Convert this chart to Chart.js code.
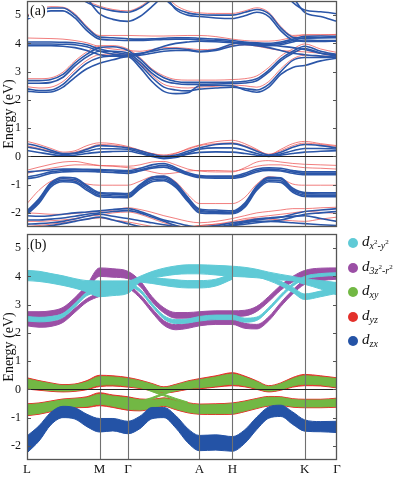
<!DOCTYPE html>
<html><head><meta charset="utf-8">
<script src="https://cdn.jsdelivr.net/npm/chart.js@4"></script>
<style>
html,body{margin:0;padding:0;background:#fff;}
body{width:395px;height:477px;position:relative;overflow:hidden;font-family:"Liberation Serif",serif;}
#wa{position:absolute;left:0;top:0;width:345px;height:229px;}
#wb{position:absolute;left:0;top:229px;width:345px;height:248px;}
.plab{position:absolute;font-size:14px;color:#111;background:#fff;padding:0 1px;line-height:14px;}
.leg{position:absolute;left:348px;height:14px;}
.dot{position:absolute;left:0;top:2px;width:10px;height:10px;border-radius:50%;}
.txt{position:absolute;left:14px;top:-3px;white-space:nowrap;font-style:italic;font-size:15px;color:#111;}
.txt .s{font-size:10px;vertical-align:-3px;}
.txt .s sup{font-size:7px;vertical-align:5px;font-style:normal;}
</style></head><body>
<div id="wa"><canvas id="ca" width="345" height="229"></canvas></div>
<div id="wb"><canvas id="cb" width="345" height="248"></canvas></div>
<div class="plab" style="left:29px;top:4px;">(a)</div>
<div class="plab" style="left:29px;top:238px;">(b)</div>
<div class="leg" style="top:236px"><div class="dot" style="background:#5FCAD6"></div><div class="txt">d<span class="s">x<sup>2</sup>-y<sup>2</sup></span></div></div>
<div class="leg" style="top:261px"><div class="dot" style="background:#9B4FA5"></div><div class="txt">d<span class="s">3z<sup>2</sup>-r<sup>2</sup></span></div></div>
<div class="leg" style="top:285px"><div class="dot" style="background:#72B844"></div><div class="txt">d<span class="s">xy</span></div></div>
<div class="leg" style="top:310px"><div class="dot" style="background:#E3302A"></div><div class="txt">d<span class="s">yz</span></div></div>
<div class="leg" style="top:334px"><div class="dot" style="background:#2453A6"></div><div class="txt">d<span class="s">zx</span></div></div>
<script>
// ---------- k-path and axes ----------
const kGrid = [0, 12, 24, 36, 48, 60, 72.6, 86, 101, 113, 125, 137, 149, 161, 172.6, 189, 205.6, 218, 230, 242, 254, 266, 278, 294, 310.3];
const kTickPos = [0, 72.6, 101, 172.6, 205.6, 278, 310.3];
const kTickLabels = ['L', 'M', 'Γ', 'A', 'H', 'K', 'Γ'];
const energyTicks = [-2, -1, 0, 1, 2, 3, 4, 5];
const energyMin = -2.5, energyMax = 5.5;
const N = null;

// ---------- panel (a): blue bands ----------
const aBlueU1 = [4.95, 5.15, 5.25, 5.25, 5.0, 4.55, 4.22, 4.2, 4.16, 4.15, 4.16, 4.18, 4.2, 4.2, 4.18, 4.15, 4.1, 4.05, 4.02, 4.0, 4.05, 4.15, 4.25, 4.26, 4.25];
const aBlueU2 = [4.85, 5.05, 5.15, 5.15, 4.9, 4.45, 4.15, 4.12, 4.1, 4.1, 4.12, 4.14, 4.15, 4.15, 4.13, 4.1, 4.05, 4.0, 3.97, 3.96, 4.0, 4.1, 4.2, 4.2, 4.2];
const aBlueU3 = [4.05, 4.05, 4.05, 4.04, 4.02, 3.95, 3.8, 3.7, 3.62, 3.65, 3.72, 3.8, 3.82, 3.78, 3.72, 3.78, 3.98, 4.02, 4.0, 3.95, 3.9, 3.85, 3.78, 3.65, 3.58];
const aBlueU4 = [3.98, 3.98, 3.98, 3.97, 3.95, 3.88, 3.72, 3.62, 3.57, 3.62, 3.75, 3.9, 4.0, 4.05, 4.08, 4.06, 4.02, 3.98, 3.95, 3.92, 3.95, 4.05, 4.12, 4.1, 4.1];
const aBlueU5 = [3.92, 3.92, 3.92, 3.9, 3.85, 3.75, 3.6, 3.55, 3.55, 3.58, 3.65, 3.72, 3.75, 3.75, 3.7, 3.75, 3.9, 3.95, 3.92, 3.85, 3.75, 3.65, 3.6, 3.55, 3.5];
const aBlueR1 = [2.68, 2.68, 2.72, 2.9, 3.3, 3.62, 3.85, 3.88, 3.75, 3.45, 3.05, 2.78, 2.65, 2.62, 2.62, 2.62, 2.63, 2.66, 2.75, 3.05, 3.45, 3.72, 3.9, 3.72, 3.6];
const aBlueR2 = [2.59, 2.59, 2.62, 2.8, 3.2, 3.52, 3.72, 3.72, 3.66, 3.35, 2.95, 2.68, 2.58, 2.55, 2.55, 2.56, 2.58, 2.6, 2.68, 2.98, 3.38, 3.65, 3.82, 3.65, 3.55];
const aBlueR3 = [2.39, 2.33, 2.35, 2.55, 2.95, 3.3, 3.5, 3.55, 3.58, 3.25, 2.8, 2.45, 2.35, 2.32, 2.38, 2.42, 2.45, 2.4, 2.35, 2.55, 3.0, 3.4, 3.5, 3.5, 3.52];
const aBlueR4 = [2.31, 2.27, 2.28, 2.45, 2.8, 3.1, 3.3, 3.42, 3.53, 3.15, 2.65, 2.3, 2.22, 2.25, 2.5, 2.52, 2.5, 2.35, 2.27, 2.45, 2.9, 3.15, 3.22, 3.38, 3.48];
const aBlueT1 = [N, N, N, N, 5.75, 5.45, 5.27, 5.15, 5.1, 5.25, 5.55, 5.9, N, N, N, N, N, N, N, N, N, N, N, N, N];
const aBlueT2 = [N, N, N, N, N, 5.6, 5.05, 4.85, 4.78, 4.95, 5.3, 5.7, N, N, N, N, N, N, N, N, N, N, N, N, N];
const aBlueT3 = [N, N, N, N, N, N, N, N, N, N, N, 5.6, 5.25, 5.08, 5.02, 5.0, 5.0, 5.1, 5.2, 5.05, 4.55, 4.22, 4.18, 4.2, 4.22];
const aBlueT4 = [N, N, N, N, N, N, N, N, N, N, N, 5.8, 5.2, 5.0, 4.95, 4.9, 4.88, 4.98, 5.1, 4.95, 4.45, 4.12, 4.07, 4.07, 4.08];
const aBlueT5 = [N, N, N, N, N, N, N, N, N, N, N, N, N, N, N, N, N, N, N, N, 5.9, 5.45, 5.18, 5.12, 5.05];
const aBlueT6 = [N, N, N, N, N, N, N, N, N, N, N, N, N, N, N, N, N, N, N, N, N, 5.65, 5.1, 4.95, 4.78];
const aBlueF1 = [0.45, 0.35, 0.22, 0.1, 0.12, 0.25, 0.38, 0.36, 0.3, 0.2, 0.08, 0.0, 0.05, 0.18, 0.3, 0.42, 0.45, 0.35, 0.18, 0.05, 0.15, 0.32, 0.42, 0.38, 0.3];
const aBlueF2 = [0.33, 0.25, 0.15, 0.07, 0.1, 0.18, 0.27, 0.27, 0.25, 0.15, 0.03, -0.06, 0.0, 0.12, 0.25, 0.3, 0.3, 0.22, 0.1, 0.02, 0.08, 0.2, 0.28, 0.28, 0.26];
const aBlueF3 = [0.21, 0.14, 0.07, 0.02, 0.04, 0.1, 0.15, 0.17, 0.18, 0.1, 0.0, -0.08, -0.04, 0.08, 0.14, 0.16, 0.15, 0.1, 0.04, 0.0, 0.04, 0.1, 0.15, 0.18, 0.2];
const aBlueM1 = [-0.55, -0.52, -0.48, -0.45, -0.45, -0.46, -0.47, -0.48, -0.5, -0.42, -0.3, -0.25, -0.4, -0.58, -0.68, -0.7, -0.7, -0.6, -0.45, -0.4, -0.42, -0.5, -0.55, -0.55, -0.55];
const aBlueM2 = [-0.73, -0.65, -0.55, -0.5, -0.48, -0.48, -0.5, -0.52, -0.55, -0.48, -0.38, -0.32, -0.45, -0.62, -0.72, -0.73, -0.73, -0.65, -0.5, -0.45, -0.48, -0.55, -0.6, -0.6, -0.6];
const aBlueM3 = [-0.79, -0.72, -0.6, -0.55, -0.53, -0.53, -0.55, -0.57, -0.6, -0.52, -0.42, -0.38, -0.5, -0.65, -0.75, -0.77, -0.77, -0.7, -0.55, -0.5, -0.52, -0.6, -0.65, -0.65, -0.65];
const aBlueH1 = [-1.97, -1.55, -0.97, -0.79, -0.82, -1.08, -1.32, -1.34, -1.37, -1.05, -0.78, -0.75, -1.0, -1.5, -1.9, -1.95, -1.97, -1.7, -1.1, -0.78, -0.8, -1.18, -1.32, -1.33, -1.33];
const aBlueH2 = [-2.0, -1.6, -1.02, -0.85, -0.88, -1.14, -1.38, -1.4, -1.42, -1.1, -0.84, -0.8, -1.05, -1.55, -1.95, -1.98, -2.0, -1.75, -1.15, -0.84, -0.86, -1.22, -1.37, -1.38, -1.38];
const aBlueH3 = [-1.93, -1.5, -0.93, -0.74, -0.77, -1.03, -1.28, -1.3, -1.32, -1.0, -0.74, -0.7, -0.95, -1.45, -1.86, -1.9, -1.93, -1.65, -1.05, -0.74, -0.76, -1.13, -1.28, -1.29, -1.29];
const aBlueH4 = [-2.05, -1.66, -1.08, -0.9, -0.93, -1.2, -1.43, -1.45, -1.46, -1.15, -0.9, -0.86, -1.1, -1.6, -2.0, -2.02, -2.03, -1.8, -1.2, -0.9, -0.92, -1.27, -1.42, -1.43, -1.43];
const aBlueD1 = [-2.1, -2.12, -2.1, -2.05, -2.0, -1.97, -1.93, -1.88, -1.85, -1.95, -2.1, -2.25, -2.35, -2.45, -2.5, -2.45, -2.35, -2.3, -2.25, -2.2, -2.15, -2.05, -1.95, -1.9, -1.85];
const aBlueD2 = [-2.25, -2.25, -2.22, -2.18, -2.12, -2.05, -2.0, -1.95, -1.92, -2.0, -2.15, -2.3, -2.45, -2.55, -2.6, -2.55, -2.45, -2.4, -2.35, -2.3, -2.25, -2.15, -2.05, -2.0, -1.95];
const aBlueD3 = [-2.4, -2.38, -2.35, -2.3, -2.22, -2.12, -2.05, -2.12, -2.2, -2.28, -2.35, -2.42, -2.48, -2.52, -2.55, -2.5, -2.4, -2.3, -2.22, -2.18, -2.15, -2.12, -2.1, -2.2, -2.3];
const aBlueD4 = [-2.55, -2.5, -2.45, -2.38, -2.3, -2.22, -2.15, -2.25, -2.38, -2.48, -2.55, -2.6, -2.6, -2.6, -2.6, -2.55, -2.45, -2.35, -2.3, -2.3, -2.32, -2.35, -2.38, -2.42, -2.45];

// ---------- panel (a): red bands ----------
const aRedU1 = [5.0, 5.2, 5.3, 5.28, 5.05, 4.6, 4.28, 4.28, 4.28, 4.27, 4.26, 4.26, 4.27, 4.28, 4.28, 4.24, 4.15, 4.1, 4.08, 4.08, 4.12, 4.22, 4.3, 4.3, 4.3];
const aRedU2 = [4.19, 4.18, 4.17, 4.15, 4.1, 4.02, 3.88, 3.8, 3.75, 3.72, 3.78, 3.85, 3.85, 3.82, 3.78, 3.8, 3.92, 3.95, 3.9, 3.82, 3.75, 3.72, 3.7, 3.65, 3.62];
const aRedR1 = [2.75, 2.75, 2.78, 2.98, 3.38, 3.7, 3.92, 3.92, 3.8, 3.5, 3.1, 2.85, 2.72, 2.7, 2.7, 2.7, 2.72, 2.75, 2.85, 3.15, 3.55, 3.8, 3.98, 3.8, 3.68];
const aRedR2 = [2.47, 2.42, 2.45, 2.65, 3.05, 3.4, 3.6, 3.62, 3.62, 3.3, 2.88, 2.55, 2.45, 2.42, 2.45, 2.48, 2.52, 2.5, 2.45, 2.65, 3.1, 3.45, 3.58, 3.55, 3.55];
const aRedT1 = [N, N, N, N, 5.75, 5.5, 5.32, 5.2, 5.15, 5.3, 5.6, N, N, N, N, N, N, N, N, N, N, N, N, N, N];
const aRedT2 = [N, N, N, N, N, N, N, N, N, N, N, 5.75, 5.35, 5.15, 5.08, 5.06, 5.06, 5.15, 5.26, 5.1, 4.6, 4.28, 4.3, 4.3, 4.32];
const aRedF1 = [0.53, 0.42, 0.28, 0.15, 0.2, 0.38, 0.48, 0.45, 0.35, 0.22, 0.1, 0.02, 0.1, 0.28, 0.4, 0.52, 0.57, 0.45, 0.25, 0.05, 0.25, 0.45, 0.53, 0.45, 0.38];
const aRedF2 = [0.38, 0.28, 0.18, 0.1, 0.15, 0.28, 0.42, 0.4, 0.32, 0.2, 0.1, 0.05, 0.12, 0.25, 0.38, 0.45, 0.48, 0.38, 0.22, 0.08, 0.2, 0.38, 0.47, 0.42, 0.35];
const aRedM1 = [-0.49, -0.38, -0.28, -0.2, -0.18, -0.25, -0.32, -0.33, -0.35, -0.3, -0.2, -0.18, -0.3, -0.45, -0.52, -0.55, -0.55, -0.4, -0.2, -0.15, -0.2, -0.25, -0.28, -0.3, -0.32];
const aRedM2 = [-0.6, -0.5, -0.42, -0.35, -0.3, -0.3, -0.33, -0.35, -0.4, -0.45, -0.55, -0.62, -0.58, -0.52, -0.5, -0.5, -0.52, -0.45, -0.35, -0.3, -0.3, -0.35, -0.4, -0.42, -0.45];
const aRedH1 = [-1.67, -1.2, -0.88, -0.78, -0.85, -0.98, -1.02, -1.02, -1.02, -0.88, -0.72, -0.7, -0.9, -1.35, -1.67, -1.67, -1.67, -1.45, -0.98, -0.72, -0.78, -0.98, -1.02, -1.02, -1.02];
const aRedD1 = [-2.0, -2.02, -2.05, -2.05, -2.02, -1.98, -1.95, -1.9, -1.82, -1.88, -1.98, -2.1, -2.2, -2.3, -2.35, -2.3, -2.2, -2.1, -2.0, -1.95, -1.9, -1.85, -1.85, -1.82, -1.8];
const aRedD2 = [-2.3, -2.3, -2.28, -2.25, -2.2, -2.12, -2.08, -2.0, -1.97, -2.05, -2.2, -2.35, -2.45, -2.5, -2.45, -2.4, -2.3, -2.2, -2.15, -2.1, -2.05, -2.0, -1.95, -1.98, -2.02];
const aRedD3 = [-2.48, -2.45, -2.4, -2.35, -2.28, -2.22, -2.18, -2.25, -2.32, -2.4, -2.48, -2.55, -2.55, -2.5, -2.45, -2.4, -2.35, -2.25, -2.2, -2.22, -2.25, -2.28, -2.3, -2.22, -2.15];

// ---------- panel (b): band energies ----------
const bUpperCyan = [4.03, 4.0, 3.93, 3.85, 3.75, 3.65, 3.56, 3.58, 3.62, 3.9, 4.05, 4.15, 4.22, 4.25, 4.25, 4.22, 4.18, 4.15, 4.1, 4.03, 3.97, 3.92, 3.82, 3.7, 3.56];
const bCyanBranch1 = [N, N, N, N, N, N, N, N, N, 3.88, 3.85, 3.8, 3.75, 3.72, 3.72, 3.78, 4.0, N, N, N, N, N, N, N, N];
const bCyanBranch2 = [N, N, N, N, N, N, N, N, N, N, N, N, N, N, N, N, N, N, 4.05, 3.92, 3.75, 3.52, 3.28, 3.38, 3.5];
const bPurpleUp = [2.65, 2.65, 2.68, 2.8, 3.15, 3.6, 4.15, 4.12, 4.05, 3.75, 3.2, 2.8, 2.62, 2.62, 2.65, 2.68, 2.68, 2.7, 2.85, 3.2, 3.6, 3.9, 4.08, 4.14, 4.15];
const bPurpleLow = [2.35, 2.3, 2.32, 2.45, 2.8, 3.15, 3.35, 3.45, 3.6, 3.3, 2.8, 2.35, 2.2, 2.25, 2.35, 2.4, 2.4, 2.25, 2.22, 2.5, 3.0, 3.45, 3.8, 3.95, 4.0];
const bCyanCore = [2.5, 2.47, 2.5, 2.62, 2.98, 3.38, 3.5, 3.55, 3.7, 3.5, 3.0, 2.55, 2.4, 2.42, 2.5, 2.55, 2.55, 2.45, 2.5, 2.85, 3.3, 3.7, 3.95, 4.05, 4.08];
const bFermiUp = [0.21, 0.14, 0.08, 0.04, 0.06, 0.15, 0.3, 0.3, 0.25, 0.18, 0.08, -0.02, 0.05, 0.15, 0.2, 0.28, 0.36, 0.28, 0.15, 0.02, 0.1, 0.25, 0.33, 0.3, 0.23];
const bFermiLow = [-0.72, -0.68, -0.6, -0.52, -0.48, -0.45, -0.35, -0.42, -0.5, -0.55, -0.52, -0.45, -0.55, -0.65, -0.7, -0.7, -0.68, -0.6, -0.5, -0.42, -0.42, -0.48, -0.5, -0.5, -0.47];
const bCross1 = [N, N, N, N, N, N, N, N, N, 0.12, -0.05, -0.2, -0.35, -0.48, N, N, N, N, N, N, N, N, N, N, N];
const bCross2 = [N, N, N, N, N, N, N, N, N, -0.45, -0.32, -0.15, 0.0, 0.12, N, N, N, N, N, N, N, N, N, N, N];
const bZxBand = [-1.95, -1.56, -1.03, -0.8, -0.85, -1.1, -1.27, -1.25, -1.35, -1.17, -0.84, -0.82, -1.15, -1.64, -1.9, -1.88, -1.93, -1.67, -1.2, -0.82, -0.76, -1.02, -1.28, -1.32, -1.33];

// ---------- panel (b): orbital weights (half widths, eV) ----------
const wUpperCyan = [0.18, 0.18, 0.17, 0.17, 0.17, 0.2, 0.28, 0.26, 0.22, 0.1, 0.12, 0.14, 0.15, 0.16, 0.16, 0.17, 0.18, 0.17, 0.15, 0.12, 0.1, 0.08, 0.1, 0.15, 0.22];
const wCyanBranch1 = [N, N, N, N, N, N, N, N, N, 0.08, 0.1, 0.12, 0.13, 0.13, 0.13, 0.12, 0.1, N, N, N, N, N, N, N, N];
const wCyanBranch2 = [N, N, N, N, N, N, N, N, N, N, N, N, N, N, N, N, N, N, 0.06, 0.07, 0.08, 0.09, 0.1, 0.1, 0.1];
const wPurpleUp = [0.1, 0.1, 0.1, 0.1, 0.1, 0.11, 0.15, 0.15, 0.13, 0.1, 0.09, 0.09, 0.1, 0.1, 0.1, 0.1, 0.1, 0.1, 0.09, 0.09, 0.09, 0.1, 0.13, 0.15, 0.15];
const wPurpleLow = [0.1, 0.1, 0.09, 0.08, 0.07, 0.06, 0.06, 0.06, 0.06, 0.06, 0.07, 0.08, 0.09, 0.09, 0.1, 0.1, 0.1, 0.09, 0.08, 0.07, 0.07, 0.07, 0.08, 0.1, 0.1];
const wCyanCore = [0.08, 0.08, 0.08, 0.07, 0.06, 0.06, 0.08, 0.07, 0.06, 0.05, 0.05, 0.06, 0.07, 0.07, 0.08, 0.08, 0.08, 0.07, 0.06, 0.05, 0.05, 0.05, 0.05, 0.05, 0.05];
const wXyUp = [0.16, 0.14, 0.12, 0.1, 0.1, 0.12, 0.15, 0.14, 0.13, 0.12, 0.1, 0.08, 0.1, 0.12, 0.14, 0.16, 0.18, 0.15, 0.12, 0.08, 0.1, 0.13, 0.15, 0.14, 0.15];
const wXyLow = [0.18, 0.17, 0.16, 0.15, 0.14, 0.15, 0.18, 0.18, 0.2, 0.18, 0.14, 0.12, 0.14, 0.15, 0.15, 0.16, 0.17, 0.16, 0.15, 0.14, 0.13, 0.12, 0.12, 0.12, 0.13];
const wYzUp = [0.2, 0.17, 0.15, 0.13, 0.13, 0.16, 0.2, 0.18, 0.17, 0.15, 0.13, 0.11, 0.13, 0.15, 0.18, 0.2, 0.23, 0.19, 0.15, 0.11, 0.13, 0.17, 0.2, 0.18, 0.18];
const wYzLow = [0.21, 0.2, 0.19, 0.18, 0.17, 0.19, 0.23, 0.22, 0.24, 0.21, 0.17, 0.15, 0.17, 0.18, 0.18, 0.19, 0.2, 0.19, 0.18, 0.17, 0.16, 0.15, 0.15, 0.15, 0.16];
const wCross = [N, N, N, N, N, N, N, N, N, 0.03, 0.03, 0.03, 0.03, 0.03, N, N, N, N, N, N, N, N, N, N, N];
const wZx = [0.3, 0.27, 0.22, 0.2, 0.2, 0.22, 0.24, 0.22, 0.22, 0.22, 0.2, 0.18, 0.22, 0.25, 0.27, 0.27, 0.26, 0.24, 0.22, 0.2, 0.2, 0.22, 0.2, 0.18, 0.2];

// ---------- colours ----------
const colBlueA = '#2B56A8', colRedA = 'rgba(236,86,86,0.85)';
const colCyan = '#5FCAD6', colPurple = '#9B4FA5', colGreen = '#72B844', colRed = '#E3302A', colBlue = '#2453A6';
const FONT = '"Liberation Serif", "Times New Roman", serif';

function pts(vals, w, sign) {
  const out = [];
  kGrid.forEach((k, i) => {
    if (vals[i] === null || vals[i] === undefined) return;
    const off = w ? sign * w[i] : 0;
    out.push({x: k, y: vals[i] + off});
  });
  return out;
}
function lineDS(vals, color, width) {
  return {data: pts(vals), borderColor: color, borderWidth: width, pointRadius: 0, fill: false, cubicInterpolationMode: 'monotone'};
}
// datasets listed top-most first
function fatPair(center, w, color) {
  return [
    {data: pts(center, w, 1), borderColor: color, backgroundColor: color, borderWidth: 1, pointRadius: 0, fill: '+1', cubicInterpolationMode: 'monotone'},
    {data: pts(center, w, -1), borderColor: color, borderWidth: 1, pointRadius: 0, fill: false, cubicInterpolationMode: 'monotone'}
  ];
}

const framePlugin = {
  id: 'frame',
  afterDatasetsDraw(chart) {
    const {ctx, chartArea: a, scales} = chart;
    const xs = scales.x, ys = scales.y;
    ctx.save();
    ctx.strokeStyle = '#707070'; ctx.lineWidth = 1.1;
    kTickPos.slice(1, -1).forEach(p => {
      const px = Math.round(xs.getPixelForValue(p)) + 0.5;
      ctx.beginPath(); ctx.moveTo(px, a.top); ctx.lineTo(px, a.bottom); ctx.stroke();
    });
    const py0 = Math.round(ys.getPixelForValue(0)) + 0.5;
    ctx.strokeStyle = '#222'; ctx.lineWidth = 1;
    ctx.beginPath(); ctx.moveTo(a.left, py0); ctx.lineTo(a.right, py0); ctx.stroke();
    ctx.strokeStyle = '#555'; ctx.lineWidth = 1.3;
    ctx.strokeRect(a.left + 0.5, a.top + 0.5, a.right - a.left - 1, a.bottom - a.top - 1);
    ctx.lineWidth = 1;
    energyTicks.forEach(v => {
      const py = Math.round(ys.getPixelForValue(v)) + 0.5;
      ctx.beginPath(); ctx.moveTo(a.left, py); ctx.lineTo(a.left + 4, py);
      ctx.moveTo(a.right, py); ctx.lineTo(a.right - 4, py); ctx.stroke();
    });
    ctx.restore();
  }
};

function makeOptions(showX, padTop, padBottom) {
  return {
    responsive: false, animation: false, devicePixelRatio: 1,
    layout: {padding: {left: 0, right: 8, top: padTop, bottom: padBottom}},
    plugins: {legend: {display: false}, tooltip: {enabled: false}},
    scales: {
      x: {
        type: 'linear', min: kTickPos[0], max: kTickPos[kTickPos.length - 1],
        afterBuildTicks: s => { s.ticks = kTickPos.map(v => ({value: v})); },
        afterFit: s => { s.height = showX ? 17 : 0; s.paddingLeft = 0; s.paddingRight = 0; },
        grid: {display: false, drawTicks: false},
        border: {display: false},
        ticks: {display: showX, autoSkip: false, maxRotation: 0, padding: 2, color: '#111',
          font: {family: FONT, size: 13}, callback: (v, i) => kTickLabels[i]}
      },
      y: {
        type: 'linear', min: energyMin, max: energyMax,
        afterBuildTicks: s => { s.ticks = energyTicks.map(v => ({value: v})); },
        afterFit: s => { s.width = 27; s.paddingTop = 0; s.paddingBottom = 0; },
        grid: {display: false, drawTicks: false},
        border: {display: false},
        ticks: {padding: 6, color: '#111', font: {family: FONT, size: 12}},
        title: {display: true, text: 'Energy (eV)', color: '#111', font: {family: FONT, size: 14}, padding: {top: 1, bottom: 0}}
      }
    }
  };
}

// ---------- panel (a) ----------
const aBlueBands = [aBlueU1, aBlueU2, aBlueU3, aBlueU4, aBlueU5, aBlueR1, aBlueR2, aBlueR3, aBlueR4,
  aBlueT1, aBlueT2, aBlueT3, aBlueT4, aBlueT5, aBlueT6, aBlueF1, aBlueF2, aBlueF3,
  aBlueM1, aBlueM2, aBlueM3, aBlueH1, aBlueH2, aBlueH3, aBlueH4, aBlueD1, aBlueD2, aBlueD3, aBlueD4];
const aRedBands = [aRedU1, aRedU2, aRedR1, aRedR2, aRedT1, aRedT2, aRedF1, aRedF2, aRedM1, aRedM2, aRedH1, aRedD1, aRedD2, aRedD3];
const dsA = [];
aBlueBands.forEach(b => dsA.push(lineDS(b, colBlueA, 1.6)));
aRedBands.forEach(b => dsA.push(lineDS(b, colRedA, 0.9)));
new Chart(document.getElementById('ca'), {type: 'line', data: {datasets: dsA}, options: makeOptions(false, 1, 2), plugins: [framePlugin]});

// ---------- panel (b) ----------
const dsB = [].concat(
  fatPair(bCyanCore, wCyanCore, colCyan),
  fatPair(bUpperCyan, wUpperCyan, colCyan),
  fatPair(bCyanBranch1, wCyanBranch1, colCyan),
  fatPair(bCyanBranch2, wCyanBranch2, colCyan),
  fatPair(bPurpleUp, wPurpleUp, colPurple),
  fatPair(bPurpleLow, wPurpleLow, colPurple),
  fatPair(bZxBand, wZx, colBlue),
  fatPair(bCross1, wCross, colGreen),
  fatPair(bCross2, wCross, colGreen),
  fatPair(bFermiUp, wXyUp, colGreen),
  fatPair(bFermiLow, wXyLow, colGreen),
  fatPair(bFermiUp, wYzUp, colRed),
  fatPair(bFermiLow, wYzLow, colRed)
);
new Chart(document.getElementById('cb'), {type: 'line', data: {datasets: dsB}, options: makeOptions(true, 5, 0), plugins: [framePlugin]});
</script>
</body></html>
